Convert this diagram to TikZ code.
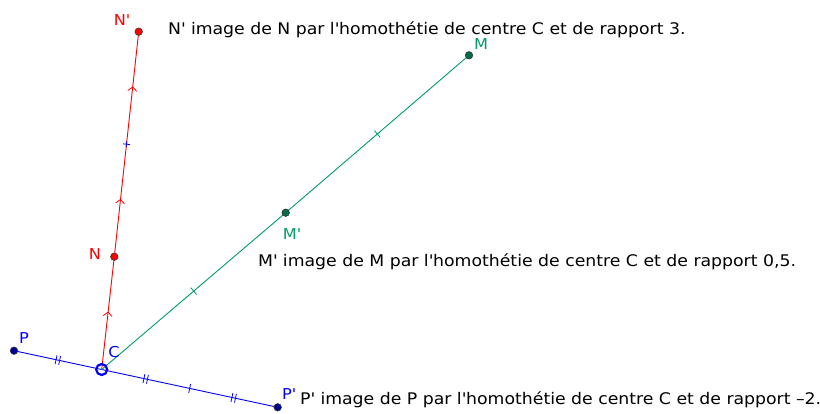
\documentclass[tikz,border=0pt]{standalone}
\usepackage{fontspec}
\setmainfont{DejaVu Sans}
\newfontfamily\wfont[FakeStretch=1.08]{DejaVu Sans}
\newcommand{\q}{\textquotesingle}
\definecolor{gred}{RGB}{255,0,0}
\definecolor{ggreen}{RGB}{0,155,105}
\definecolor{gdgreen}{RGB}{0,110,70}
\definecolor{gblue}{RGB}{0,0,255}
\definecolor{gdblue}{RGB}{0,0,150}
\tikzset{
  seg/.style={line width=0.9pt},
  pt/.style={circle, inner sep=0pt, minimum size=7.5pt, draw=black!80, line width=0.6pt},
  lbl/.style={font=\wfont\fontsize{15}{15}\selectfont, inner sep=0pt},
  txt/.style={font=\wfont\fontsize{16}{16}\selectfont, inner sep=0pt, anchor=base west, text=black},
  tick/.pic={\draw[line width=0.8pt] (0,-4.5) -- (0,4.5);},
  dtick/.pic={\draw[line width=0.8pt] (-1.8,-4.5) -- (-1.8,4.5) (1.8,-4.5) -- (1.8,4.5);},
  chev/.pic={\draw[line width=0.8pt] (-3,-4.5) -- (1,0) -- (-3,4.5);},
  plus/.pic={\draw[gblue,line width=0.8pt] (0,-3.5) -- (0,3.5) (-3,0) -- (3,0);}
}
\begin{document}
\begin{tikzpicture}[x=1pt,y=-1pt]
\useasboundingbox (0,0) rectangle (820,413);
\coordinate (C) at (101.7,369.5);
\coordinate (P) at (14,350.7);
\coordinate (Pp) at (277.7,407.3);
\coordinate (N) at (114.3,256.7);
\coordinate (Np) at (138.7,31.7);
\coordinate (M) at (469,55.3);
\coordinate (Mp) at (285.7,212.7);
% segments
\draw[seg,gblue] (P) -- pic[pos=0.5,sloped]{dtick} (C)
  -- pic[pos=0.25,sloped]{dtick} pic[pos=0.5,sloped]{tick} pic[pos=0.75,sloped]{dtick} (Pp);
\draw[seg,gred] (C) -- pic[pos=0.5,sloped]{chev} (N)
  -- pic[pos=0.25,sloped]{chev} pic[pos=0.75,sloped]{chev} (Np);
\path (N) -- pic[pos=0.5,sloped]{plus} (Np);
\draw[seg,ggreen] (C) -- pic[pos=0.5,sloped]{tick} (Mp)
  -- pic[pos=0.5,sloped]{tick} (M);
% points
\node[pt, fill=gred] (n) at (N) {};
\node[pt, fill=gred] (np) at (Np) {};
\node[pt, fill=gdgreen] (m) at (M) {};
\node[pt, fill=gdgreen] (mp) at (Mp) {};
\node[pt, fill=gdblue] (p) at (P) {};
\node[pt, fill=gdblue] (pp) at (Pp) {};
\node[circle, draw=gblue, line width=2.2pt, minimum size=11pt, inner sep=0pt] (c) at (C) {};
% labels
\node[lbl, text=gred] at (122,20) {N\q};
\node[lbl, text=gred] at (95,254) {N};
\node[lbl, text=ggreen] at (481,44) {M};
\node[lbl, text=ggreen] at (292,234) {M\q};
\node[lbl, text=gblue] at (24,338) {P};
\node[lbl, text=gblue] at (289,394) {P\q};
\node[lbl, text=gblue] at (114,352) {C};
% texts
\node[txt] (t1) at (168,34) {N\q{} image de N par l\q homothétie de centre C et de rapport 3.};
\node[txt] (t2) at (258,266) {M\q{} image de M par l\q homothétie de centre C et de rapport 0,5.};
\node[txt] (t3) at (300,404.3) {P\q{} image de P par l\q homothétie de centre C et de rapport –2.};
\end{tikzpicture}
\end{document}
